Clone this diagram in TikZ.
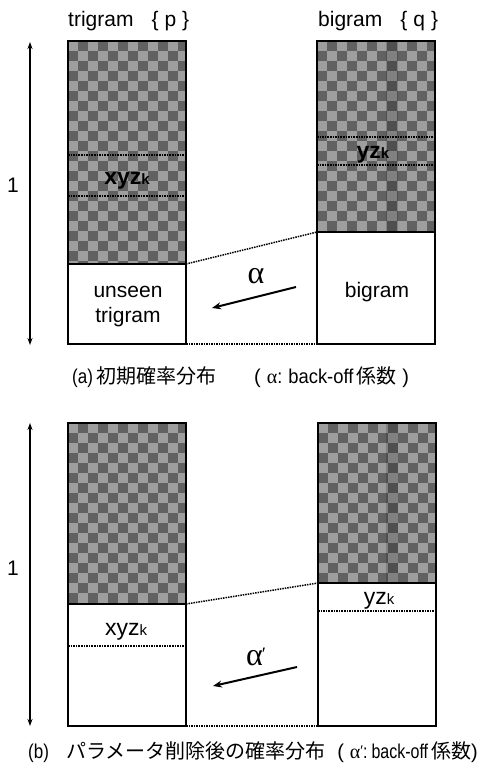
\documentclass[tikz,border=0pt]{standalone}
\usepackage{fontspec}
\usepackage{graphicx}
\setmainfont{Liberation Sans}
\newfontfamily\cjk{Noto Sans CJK JP}
\newfontfamily\grk{Liberation Serif}
\usetikzlibrary{arrows.meta}
\definecolor{sqdark}{gray}{0.38}
\definecolor{sqlight}{gray}{0.62}
\newcommand{\mychecker}[4]{%
  \begin{scope}
    \clip (#1,#2) rectangle (#3,#4);
    \fill[sqdark] (#1,#2) rectangle (#3,#4);
    \foreach \j in {0,...,23}{
      \pgfmathtruncatemacro\off{mod(\j,2)}
      \foreach \i in {0,2,...,12}{
        \fill[sqlight] ({#1+(\i+\off)*10},{#2+\j*10}) rectangle +(10,10);
      }
    }
  \end{scope}}
\tikzset{
  box/.style={draw=black, line width=1.8pt},
  sep/.style={draw=black, line width=1.6pt, densely dotted},
  link/.style={draw=black, line width=1.5pt, densely dotted},
  scale arrow/.style={line width=1.6pt, {Stealth[length=7pt,width=5pt]}-{Stealth[length=7pt,width=5pt]}},
  back arrow/.style={line width=2pt, -{Stealth[length=9pt,width=7pt]}},
  lbl/.style={inner sep=0pt, font=\fontsize{21}{23}\selectfont},
  captext/.style={inner sep=0pt, font=\fontsize{20}{22}\selectfont},
}
\begin{document}
\begin{tikzpicture}[x=1pt,y=-1pt]
\useasboundingbox (0,0) rectangle (483,771);
\fill[white] (0,0) rectangle (483,771);

% ===== panel (a) =====
\coordinate (L1tl) at (68,41);  \coordinate (L1br) at (186,344);
\coordinate (R1tl) at (317,41); \coordinate (R1br) at (435,344);
\mychecker{68}{41}{186}{264}
\mychecker{317}{41}{435}{232}
\fill[black,opacity=0.18] (386,41) rectangle (398,232);
\draw[box] (L1tl) rectangle (L1br);
\draw[box] (R1tl) rectangle (R1br);
\coordinate (L1a) at (68,264);  \coordinate (L1b) at (186,264);
\coordinate (R1a) at (317,232); \coordinate (R1b) at (435,232);
\draw[box] (L1a) -- (L1b);
\draw[box] (R1a) -- (R1b);
\coordinate (L1s1a) at (68,155); \coordinate (L1s1b) at (186,155);
\coordinate (L1s2a) at (68,196); \coordinate (L1s2b) at (186,196);
\coordinate (R1s1a) at (317,137); \coordinate (R1s1b) at (435,137);
\coordinate (R1s2a) at (317,165); \coordinate (R1s2b) at (435,165);
\draw[sep] (L1s1a) -- (L1s1b);
\draw[sep] (L1s2a) -- (L1s2b);
\draw[sep] (R1s1a) -- (R1s1b);
\draw[sep] (R1s2a) -- (R1s2b);

\node[lbl, anchor=base west] (t1) at (68,27) {trigram\hspace{18pt}\{\hspace{6pt}p\hspace{6pt}\}};
\node[lbl, anchor=base west] (t2) at (318,27) {bigram\hspace{18pt}\{\hspace{6pt}q\hspace{6pt}\}};
\node[lbl, anchor=base, font=\fontsize{23}{25}\selectfont\bfseries] (xyz1) at (127,184) {xyz\fontsize{15}{15}\selectfont k};
\node[lbl, anchor=base, font=\fontsize{23}{25}\selectfont\bfseries] (yz1) at (373,158) {yz\fontsize{15}{15}\selectfont k};
\node[lbl, anchor=base] (uns) at (128,297) {unseen};
\node[lbl, anchor=base] (utr) at (128,322) {trigram};
\node[lbl, anchor=base] (big) at (377,297) {bigram};

\coordinate (A1top) at (30,42); \coordinate (A1bot) at (30,345);
\draw[scale arrow] (A1bot) -- (A1top);
\node[lbl, anchor=base] (one1) at (13,192) {1};

\draw[link] (L1b) -- (R1a);
\draw[link] (L1br) -- (317,344) coordinate (R1bl);

\coordinate (al1s) at (296,287); \coordinate (al1e) at (212,308);
\draw[back arrow] (al1s) -- (al1e);
\node[inner sep=0pt, font=\grk\fontsize{32}{32}\selectfont] (alpha1) at (256,276) {α};

\node[captext, anchor=base west] (capa1) at (72,383) {\scalebox{0.85}[1]{(a)}\hspace{4pt}{\cjk\fontsize{20}{22}\selectfont 初期確率分布}};
\node[captext, anchor=base west] (capa2) at (254,383) {(\hspace{6pt}{\grk α}\scalebox{0.9}[1]{:}\hspace{6pt}\scalebox{0.92}[1]{back-off}\hspace{3pt}{\cjk\fontsize{20}{22}\selectfont 係数}\hspace{6pt})};

% ===== panel (b) =====
\coordinate (L2tl) at (68,423);  \coordinate (L2br) at (186,726);
\coordinate (R2tl) at (318,423); \coordinate (R2br) at (436,726);
\mychecker{68}{423}{186}{604}
\mychecker{318}{423}{436}{583}
\fill[black,opacity=0.18] (386,423) rectangle (398,583);
\draw[box] (L2tl) rectangle (L2br);
\draw[box] (R2tl) rectangle (R2br);
\coordinate (L2a) at (68,604);  \coordinate (L2b) at (186,604);
\coordinate (R2a) at (318,583); \coordinate (R2b) at (436,583);
\draw[box] (L2a) -- (L2b);
\draw[box] (R2a) -- (R2b);
\coordinate (L2s1a) at (68,646); \coordinate (L2s1b) at (186,646);
\coordinate (R2s1a) at (318,611); \coordinate (R2s1b) at (436,611);
\draw[sep] (L2s1a) -- (L2s1b);
\draw[sep] (R2s1a) -- (R2s1b);

\node[lbl, anchor=base, font=\fontsize{23}{25}\selectfont] (xyz2) at (126,635) {xyz\fontsize{15}{15}\selectfont k};
\node[lbl, anchor=base, font=\fontsize{23}{25}\selectfont] (yz2) at (379,604) {yz\fontsize{15}{15}\selectfont k};

\coordinate (A2top) at (30,423); \coordinate (A2bot) at (30,726);
\draw[scale arrow] (A2bot) -- (A2top);
\node[lbl, anchor=base] (one2) at (13,575) {1};

\draw[link] (L2b) -- (R2a);
\draw[link] (L2br) -- (318,726) coordinate (R2bl);

\coordinate (al2s) at (297,667); \coordinate (al2e) at (213,686);
\draw[back arrow] (al2s) -- (al2e);
\node[inner sep=0pt, font=\grk\fontsize{32}{32}\selectfont] (alpha2) at (256,657) {α\kern-1pt\raisebox{5pt}{\fontsize{19}{19}\selectfont ′}};

\node[captext, anchor=base west] (capb1) at (28,758) {\scalebox{0.85}[1]{(b)}};
\node[captext, anchor=base west] (capb2) at (66,758) {\cjk\fontsize{20}{22}\selectfont パラメータ削除後の確率分布};
\node[captext, anchor=base east] (capb3) at (478,758) {(\hspace{6pt}{\grk α}\raisebox{3pt}{\fontsize{14}{14}\selectfont ′}\scalebox{0.8}[1]{:}\hspace{4pt}\scalebox{0.8}[1]{back-off}\hspace{3pt}{\cjk\fontsize{20}{22}\selectfont 係数})};
\end{tikzpicture}
\end{document}
